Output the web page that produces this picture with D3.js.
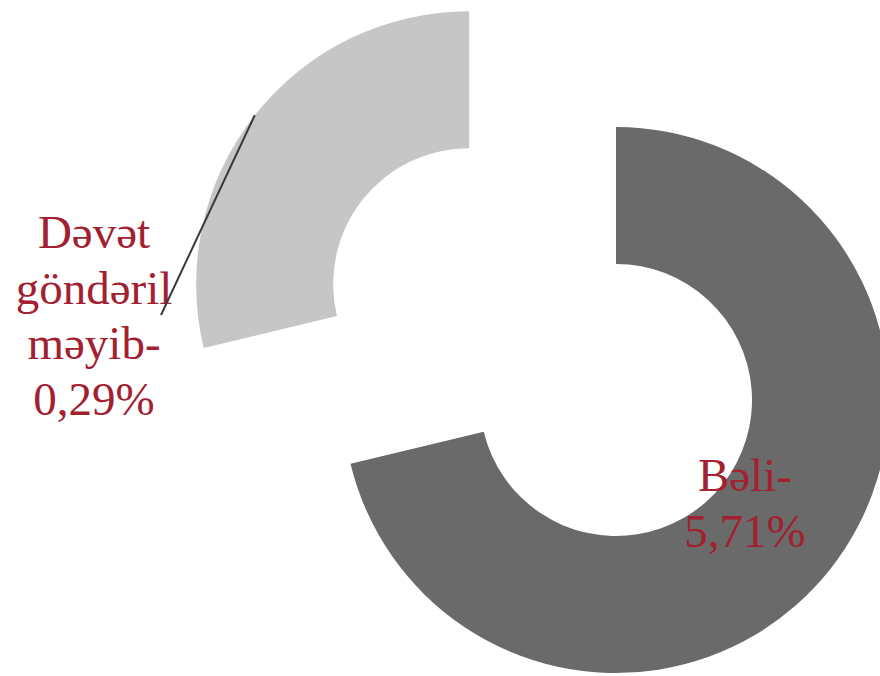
<!DOCTYPE html>
<html>
<head>
<meta charset="utf-8">
<script src="https://cdn.jsdelivr.net/npm/d3@7"></script>
<style>
  html, body { margin: 0; padding: 0; background: #ffffff; }
  svg { display: block; }
</style>
</head>
<body>
<svg id="chart" width="880" height="676"></svg>
<script>
// Data
const categories = ["Bəli", "Dəvət göndərilməyib"];
const values = [71.25, 28.75];
const labelLines = [["Bəli-", "5,71%"], ["Dəvət", "göndəril", "məyib-", "0,29%"]];
const colors = ["#6a6a6a", "#c6c6c6"];
const exploded = [0, 1];

const W = 880, H = 676;
const cx = 616, cy = 400;
const rOuter = 273, rInner = 136;
const explodeDist = 187;

const svg = d3.select("#chart");
svg.append("rect").attr("width", W).attr("height", H).attr("fill", "#ffffff");

const pie = d3.pie().sort(null).value(d => d.value).startAngle(0).endAngle(2 * Math.PI);
const data = categories.map((c, i) => ({ name: c, value: values[i], i }));
const arcs = pie(data);
const arc = d3.arc().innerRadius(rInner).outerRadius(rOuter);

const g = svg.append("g").attr("transform", `translate(${cx},${cy})`);

function offset(d) {
  const mid = (d.startAngle + d.endAngle) / 2;
  const k = exploded[d.data.i] * explodeDist;
  return [Math.sin(mid) * k, -Math.cos(mid) * k];
}

g.selectAll("path.slice")
  .data(arcs)
  .join("path")
  .attr("class", "slice")
  .attr("d", arc)
  .attr("fill", (d, i) => colors[i])
  .attr("transform", d => { const o = offset(d); return `translate(${o[0]},${o[1]})`; });

const fontSize = 47, lineH = 55.5;
const labelColor = "#a2202f";

// Label for slice 0 (inside ring)
const a0 = arcs[0];
const mid0 = (a0.startAngle + a0.endAngle) / 2;
const rl0 = (rInner + rOuter) / 2 - 20;
const l0x = Math.sin(mid0) * rl0 - 16;
const l0y = -Math.cos(mid0) * rl0 - 23;
const t0 = g.append("text")
  .attr("text-anchor", "middle")
  .attr("font-family", "'Liberation Serif', 'Times New Roman', serif")
  .attr("font-size", fontSize)
  .attr("fill", labelColor);
labelLines[0].forEach((s, j) => {
  t0.append("tspan").attr("x", l0x).attr("y", l0y + j * lineH).text(s);
});

// Label for slice 1 (outside with leader)
const a1 = arcs[1];
const mid1 = (a1.startAngle + a1.endAngle) / 2;
const o1 = offset(a1);
const edgeX = o1[0] + Math.sin(mid1) * rOuter;
const edgeY = o1[1] - Math.cos(mid1) * rOuter;
const lx = 94 - cx, ly0 = 248 - cy;
const t1 = g.append("text")
  .attr("text-anchor", "middle")
  .attr("font-family", "'Liberation Serif', 'Times New Roman', serif")
  .attr("font-size", fontSize)
  .attr("fill", labelColor);
labelLines[1].forEach((s, j) => {
  t1.append("tspan").attr("x", lx).attr("y", ly0 + j * lineH).text(s);
});

g.append("line")
  .attr("x1", 161 - cx).attr("y1", 315 - cy)
  .attr("x2", edgeX).attr("y2", edgeY)
  .attr("stroke", "#3a3a3a")
  .attr("stroke-width", 2);
</script>
</body>
</html>
